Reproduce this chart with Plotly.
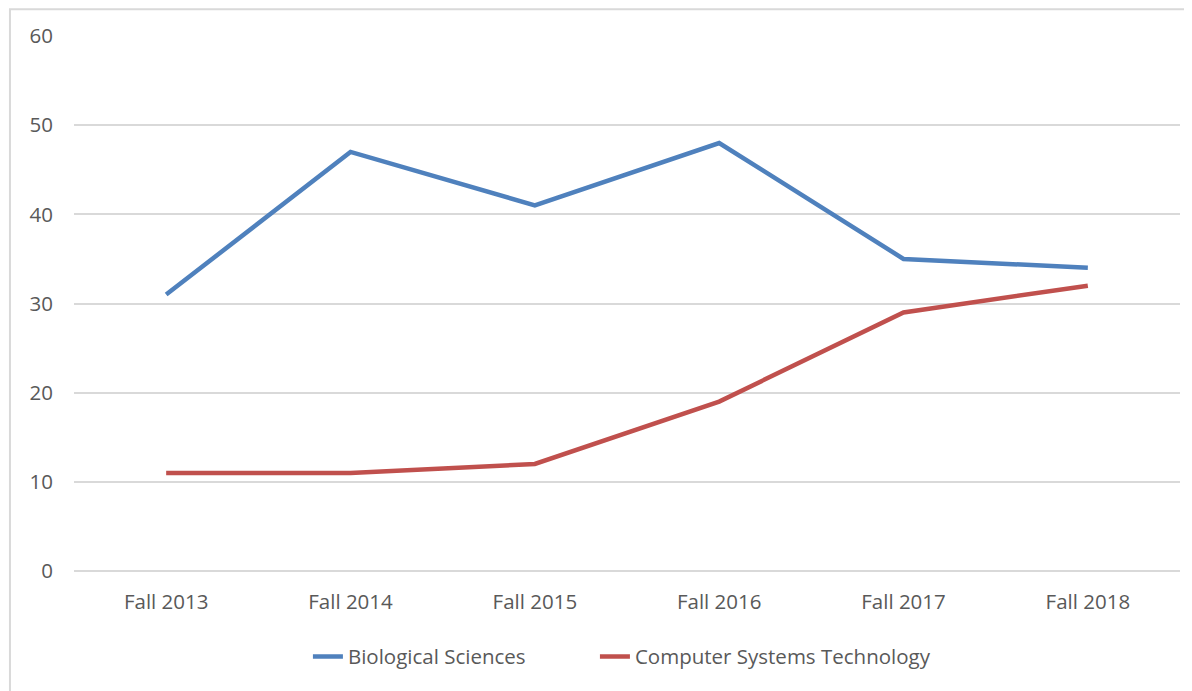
import plotly.graph_objects as go

semestres = ["Fall 2013", "Fall 2014", "Fall 2015", "Fall 2016", "Fall 2017", "Fall 2018"]
bio = [31, 47, 41, 48, 35, 34]
cst = [11, 11, 12, 19, 29, 32]
nombres = ["Biological Sciences", "Computer Systems Technology"]
colores = ["#4F81BD", "#C0504D"]
leyendas = ["legend", "legend2"]

fig = go.Figure()
for serie, nombre, color, ley in zip([bio, cst], nombres, colores, leyendas):
    fig.add_scatter(x=semestres, y=serie, mode="lines", name=nombre, legend=ley,
                    line=dict(color=color, width=4.5))

fuente_ley = dict(size=20.5, color="#595959")
# la pagina tiene 8px de margen, por eso el ancho/alto va reducido
fig.update_layout(
    width=1184, height=683,
    margin=dict(l=66, r=12, t=28, b=120),
    paper_bgcolor="white", plot_bgcolor="white",
    font=dict(family="Open Sans, sans-serif", size=20.5, color="#595959"),
    showlegend=True,
    legend=dict(orientation="h", x=0.2115, xanchor="left", y=-0.16, yanchor="middle",
                font=fuente_ley),
    legend2=dict(orientation="h", x=0.471, xanchor="left", y=-0.16, yanchor="middle",
                 font=fuente_ley),
    shapes=[dict(type="rect", xref="paper", yref="paper", x0=-0.0579, x1=1.05, y0=-0.4, y1=1.05,
                 line=dict(color="#d9d9d9", width=2), layer="below")],
)
fig.update_xaxes(range=[-0.5, 5.5], showgrid=False, showline=False, zeroline=False, ticks="",
                 ticklabelstandoff=16)
fig.update_yaxes(range=[0, 60], dtick=10, showgrid=True, gridcolor="#d9d9d9", gridwidth=1.5,
                 zeroline=True, zerolinecolor="#d9d9d9", zerolinewidth=1.5,
                 showline=False, ticks="", ticklabelstandoff=20)

fig.write_html("out.html")
